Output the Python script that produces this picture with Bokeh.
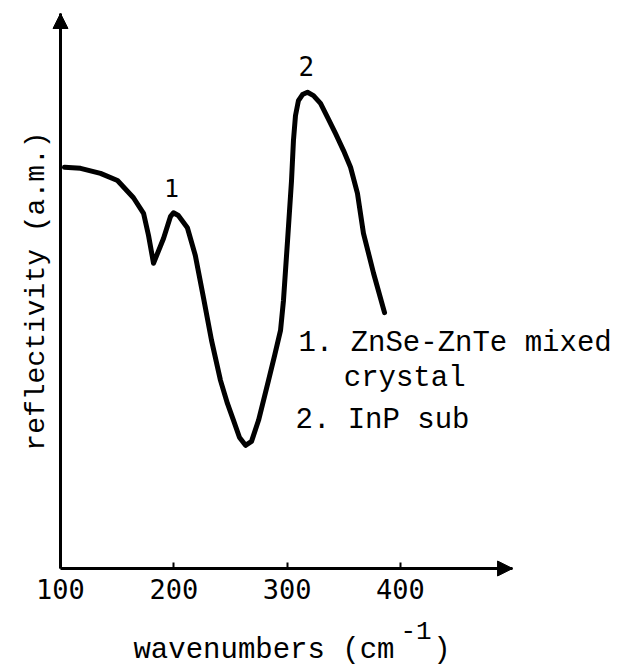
from bokeh.plotting import figure
from bokeh.models import Range1d, FixedTicker, Arrow, NormalHead, Label
from bokeh.embed import file_html
from bokeh.resources import INLINE

# data (wavenumber in cm^-1, reflectivity in arbitrary units)
wavenumber = [103.5, 117.7, 135.3, 150.3, 164.4, 173.3, 177.7, 182.1, 191.0, 197.0,
              199.7, 204.0, 212.0, 219.0, 226.2, 233.3, 241.2, 247.4, 252.7, 258.0,
              263.3, 268.6, 274.8, 279.2, 283.6, 289.0, 294.2, 296.8, 300.4, 303.9,
              305.6, 307.4, 310.0, 313.6, 318.0, 323.3, 329.5, 335.7, 342.7, 349.8,
              356.0, 362.1, 367.4, 376.3, 386.0]
reflectivity = [72.3, 72.1, 71.2, 69.9, 66.8, 64.0, 60.0, 55.0, 59.5, 63.4,
                64.1, 63.6, 61.4, 56.4, 48.8, 41.1, 33.9, 29.7, 26.7, 23.6,
                22.2, 22.9, 26.7, 30.3, 33.9, 38.4, 42.9, 48.3, 59.1, 69.9,
                77.1, 81.6, 84.3, 85.4, 85.8, 85.2, 83.8, 81.3, 78.4, 75.3,
                72.3, 67.6, 60.4, 53.2, 46.1]
x_ticks = [100, 200, 300, 400]
peak_labels = ["1", "2"]
legend_lines = ["1. ZnSe-ZnTe mixed", "crystal", "2. InP sub"]
x_title = ["wavenumbers (cm", "-1", ")"]

MONO = "Liberation Mono"
SANS_MONO = "DejaVu Sans Mono"

W, H = 631, 669
PX_X = 1.133   # pixels per wavenumber unit
PX_Y = 5.55    # pixels per reflectivity unit
X0_PX, Y0_PX = 60, 568

p = figure(width=W, height=H, output_backend="svg", toolbar_location=None,
           x_range=Range1d(100 - X0_PX / PX_X, 100 + (W - X0_PX) / PX_X),
           y_range=Range1d(-(H - Y0_PX) / PX_Y, Y0_PX / PX_Y),
           min_border_left=0, min_border_right=0, min_border_top=0,
           min_border_bottom=0)
p.grid.visible = False
p.outline_line_color = None
p.background_fill_color = "white"
p.border_fill_color = "white"

# x axis
xa = p.xaxis[0]
xa.fixed_location = 0
xa.bounds = (100, 499)
xa.ticker = FixedTicker(ticks=x_ticks)
xa.axis_line_width = 3
xa.axis_line_color = "black"
xa.major_tick_in = 6
xa.major_tick_out = 0
xa.major_tick_line_width = 2
xa.minor_tick_line_color = None
xa.major_label_text_font = SANS_MONO
xa.major_label_text_font_size = "27px"
xa.major_label_text_color = "black"
xa.major_label_standoff = 10

# y axis
ya = p.yaxis[0]
ya.fixed_location = 100
ya.bounds = (0, 100)
ya.ticker = FixedTicker(ticks=[])
ya.axis_line_width = 3
ya.axis_line_color = "black"
ya.major_tick_line_color = None
ya.minor_tick_line_color = None
ya.major_label_text_font_size = "0px"
ya.axis_label = "reflectivity (a.m.)"
ya.axis_label_text_font = MONO
ya.axis_label_text_font_size = "28px"
ya.axis_label_text_font_style = "normal"
ya.axis_label_text_color = "black"
ya.axis_label_standoff = 9

# axis arrows
p.add_layout(Arrow(end=NormalHead(size=15, fill_color="black", line_color="black"),
                   x_start=470, y_start=0, x_end=499, y_end=0,
                   line_width=3, line_color="black"))
p.add_layout(Arrow(end=NormalHead(size=15, fill_color="black", line_color="black"),
                   x_start=100, y_start=90, x_end=100, y_end=100,
                   line_width=3, line_color="black"))

# curve
p.line(wavenumber, reflectivity, line_width=5, line_color="black",
       line_join="round", line_cap="round")

# peak labels
p.add_layout(Label(x=198, y=68.5, text=peak_labels[0], text_font=SANS_MONO,
                   text_font_size="25px", text_align="center", text_baseline="middle",
                   text_color="black"))
p.add_layout(Label(x=317, y=90.5, text=peak_labels[1], text_font=SANS_MONO,
                   text_font_size="26px", text_align="center", text_baseline="middle",
                   text_color="black"))

# legend text
p.add_layout(Label(x=310, y=40.5, text=legend_lines[0], text_font=MONO,
                   text_font_size="29px", text_align="left", text_baseline="middle",
                   text_color="black"))
p.add_layout(Label(x=350, y=34.2, text=legend_lines[1], text_font=MONO,
                   text_font_size="29px", text_align="left", text_baseline="middle",
                   text_color="black"))
p.add_layout(Label(x=307.4, y=26.7, text=legend_lines[2], text_font=MONO,
                   text_font_size="29px", text_align="left", text_baseline="middle",
                   text_color="black"))

# x axis title with superscript
p.add_layout(Label(x=164.4, y=-14.8, text=x_title[0], text_font=MONO,
                   text_font_size="29px", text_align="left", text_baseline="middle",
                   text_color="black"))
p.add_layout(Label(x=400, y=-11.2, text=x_title[1], text_font=MONO,
                   text_font_size="26px", text_align="left", text_baseline="middle",
                   text_color="black"))
p.add_layout(Label(x=429, y=-14.8, text=x_title[2], text_font=MONO,
                   text_font_size="29px", text_align="left", text_baseline="middle",
                   text_color="black"))

open("out.html", "w").write(file_html(p, INLINE))
